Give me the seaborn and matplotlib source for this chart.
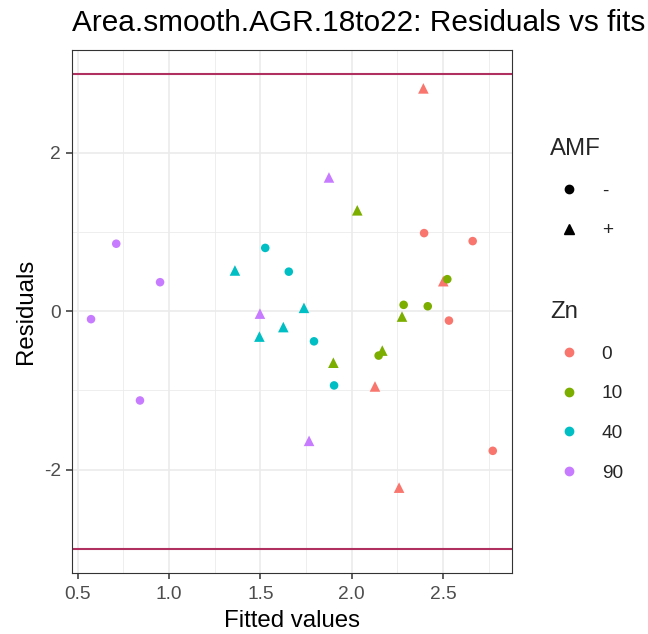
import matplotlib
matplotlib.use("Agg")
import matplotlib.pyplot as plt
import seaborn as sns
import pandas as pd
from matplotlib.lines import Line2D

# ---- data ----
zn_levels = ["0", "10", "40", "90"]
zn_colors = ["#F8766D", "#7CAE00", "#00BFC4", "#C77CFF"]
amf_levels = ["-", "+"]

zn = (["0"] * 8 + ["10"] * 8 + ["40"] * 8 + ["90"] * 7)
amf = (["-"] * 4 + ["+"] * 4 +
       ["-"] * 4 + ["+"] * 4 +
       ["-"] * 4 + ["+"] * 4 +
       ["-"] * 4 + ["+"] * 3)
fitted = [2.397, 2.663, 2.533, 2.773, 2.393, 2.502, 2.128, 2.260,
          2.524, 2.285, 2.417, 2.148, 2.031, 2.276, 2.168, 1.900,
          1.527, 1.656, 1.794, 1.904, 1.361, 1.739, 1.495, 1.626,
          0.711, 0.951, 0.573, 0.841, 1.876, 1.498, 1.767]
resid = [0.987, 0.886, -0.118, -1.763, 2.815, 0.380, -0.950, -2.228,
         0.405, 0.081, 0.063, -0.560, 1.275, -0.067, -0.497, -0.650,
         0.800, 0.500, -0.380, -0.937, 0.515, 0.043, -0.320, -0.200,
         0.853, 0.367, -0.100, -1.127, 1.690, -0.030, -1.637]

x_ticks = [0.5, 1.0, 1.5, 2.0, 2.5]
x_tick_labels = ["0.5", "1.0", "1.5", "2.0", "2.5"]
y_ticks = [-2, 0, 2]
y_tick_labels = ["-2", "0", "2"]
ref_lines = [3, -3]

df = pd.DataFrame({"Zn": zn, "AMF": amf, "fitted": fitted, "resid": resid})

# ---- style ----
sns.set_theme(style="white")
plt.rcParams['font.family'] = ['Liberation Sans', 'DejaVu Sans']

W, H = 648, 634
fig = plt.figure(figsize=(W / 100, H / 100), dpi=100)
ax = fig.add_axes([72.3 / W, 1 - 572.5 / H, (512.3 - 72.3) / W, (572.5 - 50) / H])

ax.set_xlim(0.4704, 2.880)
ax.set_ylim(-3.3, 3.3)
ax.set_xticks(x_ticks)
ax.set_xticklabels(x_tick_labels)
ax.set_yticks(y_ticks)
ax.set_yticklabels(y_tick_labels)
ax.set_xticks([0.75, 1.25, 1.75, 2.25, 2.75], minor=True)
ax.set_yticks([-3, -1, 1, 3], minor=True)
ax.grid(which='major', color='#EBEBEB', lw=1.2)
ax.grid(which='minor', color='#EBEBEB', lw=0.6)
ax.set_axisbelow(True)

for v in ref_lines:
    ax.axhline(v, color='#B03060', lw=1.5, zorder=2)

marker_map = {"-": ("o", 38), "+": ("^", 58)}
for lvl in ["+", "-"]:
    m, s = marker_map[lvl]
    sub = df[df["AMF"] == lvl]
    sns.scatterplot(data=sub, x="fitted", y="resid", hue="Zn", hue_order=zn_levels,
                    palette=zn_colors, marker=m, s=s, linewidth=0, legend=False,
                    ax=ax, zorder=3)

ax.tick_params(which='major', direction='out', length=4, width=1.1, color='#333333',
               labelcolor='#4D4D4D', labelsize=13.8, pad=4, bottom=True, left=True)
ax.tick_params(axis='x', which='major', pad=5.5)
ax.tick_params(which='minor', length=0)
for sp in ax.spines.values():
    sp.set_color('#333333')
    sp.set_linewidth(0.8)

ax.set_xlabel("Fitted values", fontsize=17.3, color='black', labelpad=5)
ax.set_ylabel("Residuals", fontsize=17.3, color='black', labelpad=5)

fig.text(72.3 / W, 1 - 23 / H, "Area.smooth.AGR.18to22: Residuals vs fits",
         fontsize=21.4, color='black', ha='left', va='center')

# ---- legends ----
h_amf = [Line2D([], [], marker='o', ls='', color='black', markersize=6),
         Line2D([], [], marker='^', ls='', color='black', markersize=7)]
leg1 = fig.legend(h_amf, amf_levels, title="AMF", loc='upper left',
                  bbox_to_anchor=(550 / W, 1 - 138 / H), frameon=False,
                  fontsize=13.8, title_fontsize=17.3, handlelength=2.0,
                  handletextpad=0.7, labelspacing=1.16, alignment='left',
                  borderpad=0, borderaxespad=0)

h_zn = [Line2D([], [], marker='o', ls='', color=c, markersize=6) for c in zn_colors]
leg2 = fig.legend(h_zn, zn_levels, title="Zn", loc='upper left',
                  bbox_to_anchor=(550 / W, 1 - 301 / H), frameon=False,
                  fontsize=13.8, title_fontsize=17.3, handlelength=2.0,
                  handletextpad=0.7, labelspacing=1.16, alignment='left',
                  borderpad=0, borderaxespad=0)

fig.savefig("out.png", dpi=100)
